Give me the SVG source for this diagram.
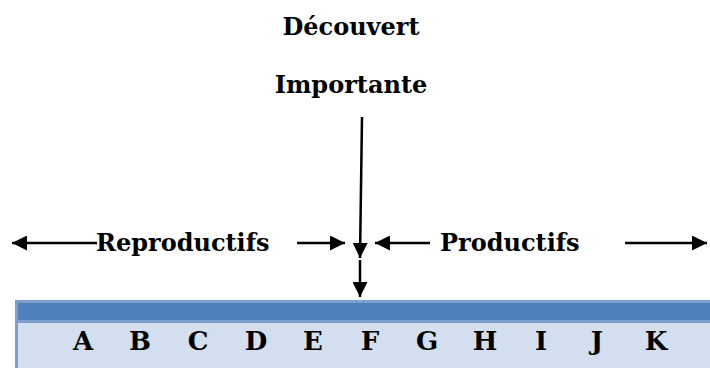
<svg xmlns="http://www.w3.org/2000/svg" width="710" height="368" viewBox="0 0 710 368">
<style>
.c{stroke:#000;stroke-width:2.5;fill:none}
.f{font-family:'DejaVu Serif','Liberation Serif',serif;font-weight:bold;fill:#000}
</style>
<defs>
<marker id="ah" viewBox="0 0 10 10" refX="10" refY="5" markerWidth="15" markerHeight="15" markerUnits="userSpaceOnUse" orient="auto">
<path d="M0,0 L10,5 L0,10 Z" fill="#000"/>
</marker>
</defs>
<rect width="710" height="368" fill="#fff"/>
<g id="table">
<rect x="15" y="300" width="700" height="70" fill="#7BA0CD"/>
<rect x="18" y="303" width="700" height="17" fill="#4F81BD"/>
<rect x="18" y="323" width="700" height="50" fill="#D3DFEE"/>
<g class="f" font-size="26" text-anchor="middle">
<text x="83" y="350">A</text>
<text x="140" y="350">B</text>
<text x="198" y="350">C</text>
<text x="256" y="350">D</text>
<text x="313" y="350">E</text>
<text x="370" y="350">F</text>
<text x="427" y="350">G</text>
<text x="485" y="350">H</text>
<text x="541" y="350">I</text>
<text x="597" y="350">J</text>
<text x="656" y="350">K</text>
</g>
</g>
<g id="title" class="f" font-size="24" text-anchor="middle">
<text x="351" y="35">Découvert</text>
<text x="351" y="93">Importante</text>
</g>
<g id="reproductifs" class="f" font-size="24">
<text x="96" y="251">Reproductifs</text>
</g>
<g id="productifs" class="f" font-size="24">
<text x="440" y="251">Productifs</text>
</g>
<g id="connectors">
<line class="c" x1="362" y1="117" x2="360" y2="258" marker-end="url(#ah)"/>
<line class="c" x1="360" y1="260" x2="360" y2="297" marker-end="url(#ah)"/>
<line class="c" x1="97" y1="243" x2="12" y2="243" marker-end="url(#ah)"/>
<line class="c" x1="297" y1="243" x2="345" y2="243" marker-end="url(#ah)"/>
<line class="c" x1="430" y1="243" x2="375" y2="243" marker-end="url(#ah)"/>
<line class="c" x1="625" y1="243" x2="707" y2="243" marker-end="url(#ah)"/>
</g>
</svg>
